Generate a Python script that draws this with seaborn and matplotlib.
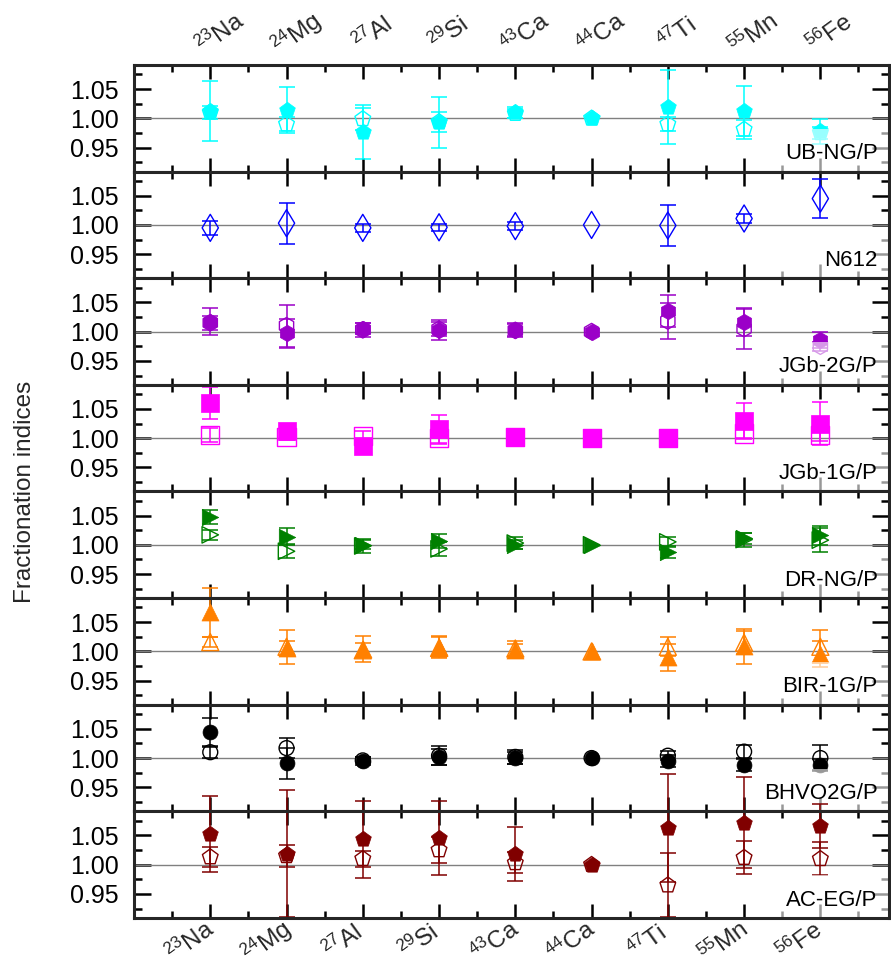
import numpy as np
import matplotlib
matplotlib.use("Agg")
import matplotlib.pyplot as plt
import matplotlib.transforms as mtransforms
from matplotlib.ticker import FixedLocator, MultipleLocator
from matplotlib.patches import Rectangle
import seaborn as sns

# ---------------- data ----------------
isotopes = ["23Na", "24Mg", "27Al", "29Si", "43Ca", "44Ca", "47Ti", "55Mn", "56Fe"]
tick_labels = [r"$^{23}$Na", r"$^{24}$Mg", r"$^{27}$Al", r"$^{29}$Si", r"$^{43}$Ca",
               r"$^{44}$Ca", r"$^{47}$Ti", r"$^{55}$Mn", r"$^{56}$Fe"]
samples = ["UB-NG/P", "N612", "JGb-2G/P", "JGb-1G/P", "DR-NG/P", "BIR-1G/P", "BHVO2G/P", "AC-EG/P"]

ubng_filled = [1.013, 1.014, 0.976, 0.993, 1.010, 1.000, 1.019, 1.012, 0.978]
ubng_filled_err = [0.051, 0.039, 0.046, 0.043, 0.010, 0.0, 0.063, 0.043, 0.021]
ubng_open = [1.010, 0.990, 0.999, 0.994, 1.008, 1.000, 0.990, 0.981, 0.975]
ubng_open_err = [0.011, 0.012, 0.019, 0.017, 0.008, 0.0, 0.012, 0.016, 0.010]

n612_open = [0.995, 1.003, 0.995, 0.996, 0.998, 1.000, 0.999, 1.011, 1.045]
n612_open_err = [0.012, 0.035, 0.007, 0.006, 0.007, 0.0, 0.035, 0.007, 0.034]

jgb2_filled = [1.017, 0.997, 1.005, 1.002, 1.003, 1.000, 1.035, 1.017, 0.986]
jgb2_filled_err = [0.023, 0.025, 0.010, 0.017, 0.010, 0.0, 0.027, 0.024, 0.014]
jgb2_open = [1.015, 1.010, 1.003, 1.004, 1.002, 1.000, 1.018, 1.005, 0.975]
jgb2_open_err = [0.012, 0.036, 0.012, 0.012, 0.012, 0.0, 0.030, 0.034, 0.008]

jgb1_filled = [1.060, 1.012, 0.986, 1.015, 1.002, 1.000, 1.001, 1.030, 1.025]
jgb1_filled_err = [0.028, 0.005, 0.005, 0.025, 0.004, 0.0, 0.004, 0.030, 0.036]
jgb1_open = [1.006, 1.002, 1.004, 1.000, 1.002, 1.000, 1.001, 1.008, 1.005]
jgb1_open_err = [0.012, 0.005, 0.008, 0.008, 0.004, 0.0, 0.004, 0.010, 0.010]

drng_filled = [1.048, 1.014, 1.000, 1.006, 1.000, 1.000, 0.988, 1.011, 1.016]
drng_filled_err = [0.012, 0.014, 0.008, 0.012, 0.008, 0.0, 0.010, 0.010, 0.016]
drng_open = [1.017, 0.989, 0.998, 0.993, 1.003, 1.000, 1.005, 1.009, 1.008]
drng_open_err = [0.008, 0.012, 0.012, 0.012, 0.010, 0.0, 0.009, 0.012, 0.020]

bir_filled = [1.067, 1.006, 1.004, 1.008, 1.002, 1.000, 0.990, 1.009, 0.996]
bir_filled_err = [0.042, 0.012, 0.022, 0.018, 0.010, 0.0, 0.023, 0.030, 0.022]
bir_open = [1.016, 1.008, 1.002, 1.006, 1.005, 1.000, 1.008, 1.015, 1.008]
bir_open_err = [0.009, 0.029, 0.012, 0.018, 0.013, 0.0, 0.016, 0.020, 0.028]

bhvo_filled = [1.044, 0.991, 0.995, 1.002, 1.000, 1.000, 0.995, 0.988, 0.989]
bhvo_filled_err = [0.025, 0.027, 0.007, 0.014, 0.010, 0.0, 0.010, 0.010, 0.010]
bhvo_open = [1.010, 1.017, 0.996, 1.004, 1.002, 1.000, 1.004, 1.011, 1.000]
bhvo_open_err = [0.010, 0.017, 0.005, 0.016, 0.012, 0.0, 0.008, 0.011, 0.022]

aceg_filled = [1.052, 1.019, 1.043, 1.046, 1.018, 1.000, 1.062, 1.072, 1.066]
aceg_filled_err = [0.065, 0.109, 0.065, 0.063, 0.046, 0.0, 0.092, 0.078, 0.038]
aceg_open = [1.013, 1.015, 1.010, 1.025, 1.003, 1.000, 0.965, 1.012, 1.010]
aceg_open_err = [0.017, 0.019, 0.014, 0.022, 0.018, 0.0, 0.055, 0.028, 0.028]

filled_sets = [ubng_filled, None, jgb2_filled, jgb1_filled, drng_filled, bir_filled, bhvo_filled, aceg_filled]
filled_errs = [ubng_filled_err, None, jgb2_filled_err, jgb1_filled_err, drng_filled_err, bir_filled_err, bhvo_filled_err, aceg_filled_err]
open_sets = [ubng_open, n612_open, jgb2_open, jgb1_open, drng_open, bir_open, bhvo_open, aceg_open]
open_errs = [ubng_open_err, n612_open_err, jgb2_open_err, jgb1_open_err, drng_open_err, bir_open_err, bhvo_open_err, aceg_open_err]

colors = ["#00FFFF", "#0000FF", "#9B00C8", "#FF00FF", "#008000", "#FF8000", "#000000", "#800000"]
markers = ["p", "d", "h", "s", ">", "^", "o", "p"]
msizes = [140, 190, 140, 170, 140, 150, 115, 140]

# ---------------- style ----------------
sns.set_style("ticks")
plt.rcParams["font.family"] = ["Liberation Sans", "DejaVu Sans"]
plt.rcParams["mathtext.fontset"] = "custom"
plt.rcParams["mathtext.rm"] = "Liberation Sans"
plt.rcParams["mathtext.it"] = "Liberation Sans:italic"
plt.rcParams["mathtext.bf"] = "Liberation Sans:bold"

fig = plt.figure(figsize=(8.91, 9.69), dpi=100)
left, right = 134 / 891, 889 / 891
top, bottom = 1 - 65 / 969, 1 - 918 / 969
h = (top - bottom) / len(samples)
xpos = np.arange(1, len(isotopes) + 1)

for i, name in enumerate(samples):
    ax = fig.add_axes([left, top - (i + 1) * h, right - left, h])
    c = colors[i]
    ax.axhline(1.0, color="#808080", lw=1.0, zorder=0.8)

    # open series
    ov = np.array(open_sets[i]); oe = np.array(open_errs[i])
    m = oe > 0
    ax.errorbar(xpos[m], ov[m], yerr=oe[m], fmt="none", ecolor=c, elinewidth=1.1,
                capsize=6, capthick=1.1, zorder=2, clip_on=False)
    sns.scatterplot(x=xpos, y=ov, marker=markers[i], s=msizes[i], facecolors="none",
                    edgecolor=c, linewidth=1.0, ax=ax, zorder=2.2, clip_on=False)

    # filled series
    if filled_sets[i] is not None:
        fv = np.array(filled_sets[i]); fe = np.array(filled_errs[i])
        m = fe > 0
        ax.errorbar(xpos[m], fv[m], yerr=fe[m], fmt="none", ecolor=c, elinewidth=1.1,
                    capsize=6, capthick=1.1, zorder=2.1, clip_on=False)
        sns.scatterplot(x=xpos, y=fv, marker=markers[i], s=msizes[i], color=c,
                        edgecolor=c, linewidth=0.5, ax=ax, zorder=2.4, clip_on=False)

    ax.set_xlim(0, 9.9)
    ax.set_ylim(0.909, 1.091)
    ax.yaxis.set_major_locator(FixedLocator([0.95, 1.00, 1.05]))
    ax.yaxis.set_minor_locator(MultipleLocator(0.025))
    ax.set_yticks([0.95, 1.00, 1.05], ["0.95", "1.00", "1.05"])
    ax.set_xticks(xpos)
    ax.xaxis.set_minor_locator(MultipleLocator(0.5))
    ax.set_xlabel(""); ax.set_ylabel("")

    ax.tick_params(axis="both", which="both", direction="in", top=True, right=True,
                   width=1.8, colors="black")
    ax.tick_params(axis="y", which="major", length=12, labelsize=18, pad=11)
    ax.tick_params(axis="y", which="minor", length=6)
    ax.tick_params(axis="x", which="major", length=10, labelbottom=False, labeltop=False)
    ax.tick_params(axis="x", which="minor", length=5)
    for sp in ax.spines.values():
        sp.set_linewidth(2.2)
        sp.set_zorder(5)

    blend = mtransforms.blended_transform_factory(ax.transData, ax.transAxes)
    if i == 0:
        tr = blend + mtransforms.ScaledTranslation(10 / 100, 31 / 100, fig.dpi_scale_trans)
        for xv, lab in zip(xpos, tick_labels):
            ax.text(xv, 1.0, lab, transform=tr, rotation=36, rotation_mode="anchor",
                    ha="center", va="center", fontsize=17.5, clip_on=False)
    if i == len(samples) - 1:
        tr = blend + mtransforms.ScaledTranslation(-20 / 100, -24 / 100, fig.dpi_scale_trans)
        for xv, lab in zip(xpos, tick_labels):
            ax.text(xv, 0.0, lab, transform=tr, rotation=36, rotation_mode="anchor",
                    ha="center", va="center", fontsize=17.5, clip_on=False)

    ax.add_patch(Rectangle((0.845, 0.0), 0.155, 0.40, transform=ax.transAxes,
                           facecolor="white", edgecolor="none", alpha=0.6, zorder=3))
    ax.text(0.985, 0.07, name, transform=ax.transAxes, ha="right", va="bottom",
            fontsize=16, color="black", zorder=4)

fig.text(0.028, (top + bottom) / 2, "Fractionation indices", rotation=90,
         ha="center", va="center", fontsize=17.5)

fig.savefig("out.png", dpi=100)
